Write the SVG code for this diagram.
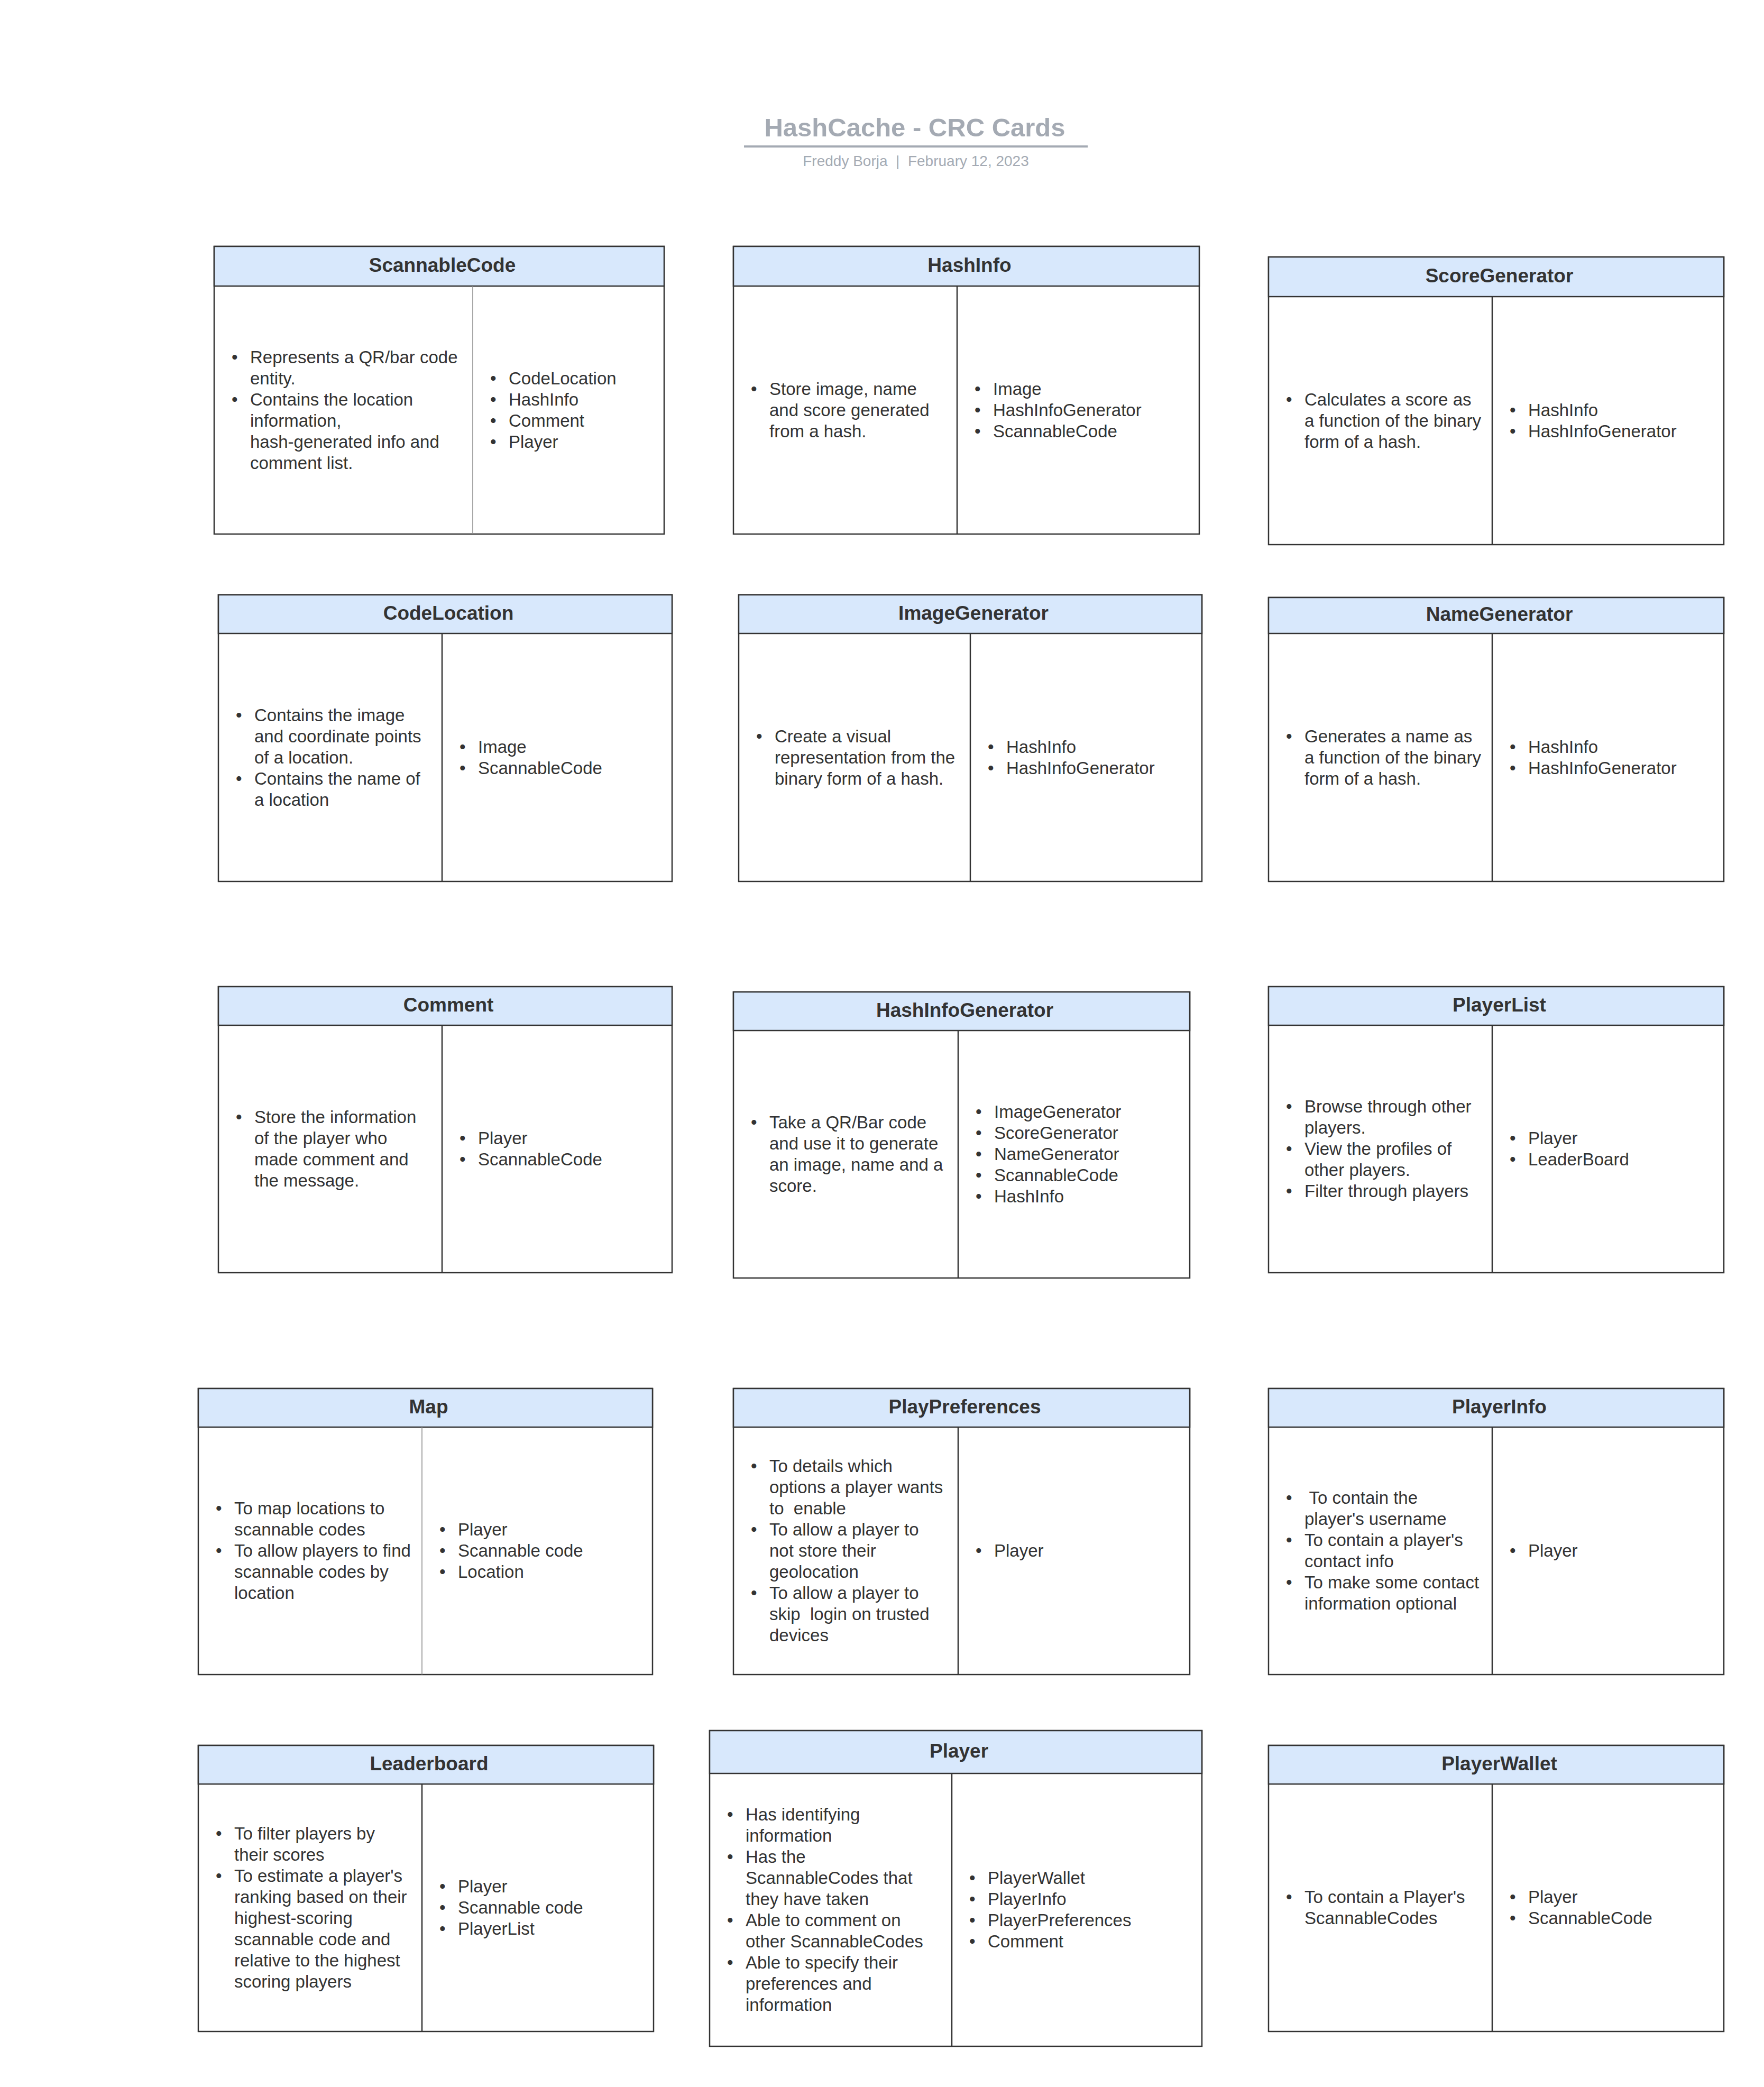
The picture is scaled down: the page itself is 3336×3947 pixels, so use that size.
<svg xmlns="http://www.w3.org/2000/svg" width="3336" height="3947" viewBox="0 0 3336 3947">
<style>
.bg{fill:#ffffff}
.box{fill:#ffffff;stroke:#333333;stroke-width:2.5}
.hdr{fill:#D8E8FC;stroke:#333333;stroke-width:2.5}
.dv{stroke:#333333;stroke-width:2.5}
.dvl{stroke:#8a8a8a;stroke-width:1.5}
.h{font-family:"Liberation Sans",Arial,sans-serif;font-size:37px;font-weight:bold;fill:#333333;text-anchor:middle;transform:translate(6px,-3px)}
.t{font-family:"Liberation Sans",Arial,sans-serif;font-size:33px;fill:#333333;white-space:pre}
.ttl{font-family:"Liberation Sans",Arial,sans-serif;font-size:49px;font-weight:bold;fill:#A4AAB3;text-anchor:middle}
.sub{font-family:"Liberation Sans",Arial,sans-serif;font-size:28px;fill:#A4AAB3;text-anchor:middle;white-space:pre}
</style>
<rect class="bg" x="0" y="0" width="3336" height="3947"/>

<g id="title">
<text class="ttl" x="1730" y="258">HashCache - CRC Cards</text>
<line x1="1407" y1="277" x2="2057" y2="277" stroke="#A4AAB3" stroke-width="4"/>
<text class="sub" x="1732" y="314">Freddy Borja  |  February 12, 2023</text>
</g>

<g id="connectors"></g>

<g id="ScannableCode">
<rect class="box" x="405" y="466" width="851" height="544"/>
<rect class="hdr" x="405" y="466" width="851" height="75"/>
<line class="dvl" x1="894" y1="541" x2="894" y2="1010"/>
<text class="h" x="830.5" y="516.5">ScannableCode</text>
<text class="t" x="438" y="686.5">•</text><text class="t" x="473" y="686.5">Represents a QR/bar code</text>
<text class="t" x="473" y="726.5">entity.</text>
<text class="t" x="438" y="766.5">•</text><text class="t" x="473" y="766.5">Contains the location</text>
<text class="t" x="473" y="806.5">information,</text>
<text class="t" x="473" y="846.5">hash-generated info and</text>
<text class="t" x="473" y="886.5">comment list.</text>
<text class="t" x="927" y="726.5">•</text><text class="t" x="962" y="726.5">CodeLocation</text>
<text class="t" x="927" y="766.5">•</text><text class="t" x="962" y="766.5">HashInfo</text>
<text class="t" x="927" y="806.5">•</text><text class="t" x="962" y="806.5">Comment</text>
<text class="t" x="927" y="846.5">•</text><text class="t" x="962" y="846.5">Player</text>
</g>

<g id="HashInfo">
<rect class="box" x="1387" y="466" width="881" height="544"/>
<rect class="hdr" x="1387" y="466" width="881" height="75"/>
<line class="dv" x1="1810" y1="541" x2="1810" y2="1010"/>
<text class="h" x="1827.5" y="516.5">HashInfo</text>
<text class="t" x="1420" y="746.5">•</text><text class="t" x="1455" y="746.5">Store image, name</text>
<text class="t" x="1455" y="786.5">and score generated</text>
<text class="t" x="1455" y="826.5">from a hash.</text>
<text class="t" x="1843" y="746.5">•</text><text class="t" x="1878" y="746.5">Image</text>
<text class="t" x="1843" y="786.5">•</text><text class="t" x="1878" y="786.5">HashInfoGenerator</text>
<text class="t" x="1843" y="826.5">•</text><text class="t" x="1878" y="826.5">ScannableCode</text>
</g>

<g id="ScoreGenerator">
<rect class="box" x="2399" y="486" width="861" height="544"/>
<rect class="hdr" x="2399" y="486" width="861" height="75"/>
<line class="dv" x1="2822" y1="561" x2="2822" y2="1030"/>
<text class="h" x="2829.5" y="536.5">ScoreGenerator</text>
<text class="t" x="2432" y="766.5">•</text><text class="t" x="2467" y="766.5">Calculates a score as</text>
<text class="t" x="2467" y="806.5">a function of the binary</text>
<text class="t" x="2467" y="846.5">form of a hash.</text>
<text class="t" x="2855" y="786.5">•</text><text class="t" x="2890" y="786.5">HashInfo</text>
<text class="t" x="2855" y="826.5">•</text><text class="t" x="2890" y="826.5">HashInfoGenerator</text>
</g>

<g id="CodeLocation">
<rect class="box" x="413" y="1125" width="858" height="542"/>
<rect class="hdr" x="413" y="1125" width="858" height="73"/>
<line class="dv" x1="836" y1="1198" x2="836" y2="1667"/>
<text class="h" x="842" y="1174.5">CodeLocation</text>
<text class="t" x="446" y="1363.5">•</text><text class="t" x="481" y="1363.5">Contains the image</text>
<text class="t" x="481" y="1403.5">and coordinate points</text>
<text class="t" x="481" y="1443.5">of a location.</text>
<text class="t" x="446" y="1483.5">•</text><text class="t" x="481" y="1483.5">Contains the name of</text>
<text class="t" x="481" y="1523.5">a location</text>
<text class="t" x="869" y="1423.5">•</text><text class="t" x="904" y="1423.5">Image</text>
<text class="t" x="869" y="1463.5">•</text><text class="t" x="904" y="1463.5">ScannableCode</text>
</g>

<g id="ImageGenerator">
<rect class="box" x="1397" y="1125" width="876" height="542"/>
<rect class="hdr" x="1397" y="1125" width="876" height="73"/>
<line class="dv" x1="1835" y1="1198" x2="1835" y2="1667"/>
<text class="h" x="1835" y="1174.5">ImageGenerator</text>
<text class="t" x="1430" y="1403.5">•</text><text class="t" x="1465" y="1403.5">Create a visual</text>
<text class="t" x="1465" y="1443.5">representation from the</text>
<text class="t" x="1465" y="1483.5">binary form of a hash.</text>
<text class="t" x="1868" y="1423.5">•</text><text class="t" x="1903" y="1423.5">HashInfo</text>
<text class="t" x="1868" y="1463.5">•</text><text class="t" x="1903" y="1463.5">HashInfoGenerator</text>
</g>

<g id="NameGenerator">
<rect class="box" x="2399" y="1130" width="861" height="537"/>
<rect class="hdr" x="2399" y="1130" width="861" height="68"/>
<line class="dv" x1="2822" y1="1198" x2="2822" y2="1667"/>
<text class="h" x="2829.5" y="1177">NameGenerator</text>
<text class="t" x="2432" y="1403.5">•</text><text class="t" x="2467" y="1403.5">Generates a name as</text>
<text class="t" x="2467" y="1443.5">a function of the binary</text>
<text class="t" x="2467" y="1483.5">form of a hash.</text>
<text class="t" x="2855" y="1423.5">•</text><text class="t" x="2890" y="1423.5">HashInfo</text>
<text class="t" x="2855" y="1463.5">•</text><text class="t" x="2890" y="1463.5">HashInfoGenerator</text>
</g>

<g id="Comment">
<rect class="box" x="413" y="1866" width="858" height="541"/>
<rect class="hdr" x="413" y="1866" width="858" height="73"/>
<line class="dv" x1="836" y1="1939" x2="836" y2="2407"/>
<text class="h" x="842" y="1915.5">Comment</text>
<text class="t" x="446" y="2124">•</text><text class="t" x="481" y="2124">Store the information</text>
<text class="t" x="481" y="2164">of the player who</text>
<text class="t" x="481" y="2204">made comment and</text>
<text class="t" x="481" y="2244">the message.</text>
<text class="t" x="869" y="2164">•</text><text class="t" x="904" y="2164">Player</text>
<text class="t" x="869" y="2204">•</text><text class="t" x="904" y="2204">ScannableCode</text>
</g>

<g id="HashInfoGenerator">
<rect class="box" x="1387" y="1876" width="863" height="541"/>
<rect class="hdr" x="1387" y="1876" width="863" height="73"/>
<line class="dv" x1="1812" y1="1949" x2="1812" y2="2417"/>
<text class="h" x="1818.5" y="1925.5">HashInfoGenerator</text>
<text class="t" x="1420" y="2134">•</text><text class="t" x="1455" y="2134">Take a QR/Bar code</text>
<text class="t" x="1455" y="2174">and use it to generate</text>
<text class="t" x="1455" y="2214">an image, name and a</text>
<text class="t" x="1455" y="2254">score.</text>
<text class="t" x="1845" y="2114">•</text><text class="t" x="1880" y="2114">ImageGenerator</text>
<text class="t" x="1845" y="2154">•</text><text class="t" x="1880" y="2154">ScoreGenerator</text>
<text class="t" x="1845" y="2194">•</text><text class="t" x="1880" y="2194">NameGenerator</text>
<text class="t" x="1845" y="2234">•</text><text class="t" x="1880" y="2234">ScannableCode</text>
<text class="t" x="1845" y="2274">•</text><text class="t" x="1880" y="2274">HashInfo</text>
</g>

<g id="PlayerList">
<rect class="box" x="2399" y="1866" width="861" height="541"/>
<rect class="hdr" x="2399" y="1866" width="861" height="73"/>
<line class="dv" x1="2822" y1="1939" x2="2822" y2="2407"/>
<text class="h" x="2829.5" y="1915.5">PlayerList</text>
<text class="t" x="2432" y="2104">•</text><text class="t" x="2467" y="2104">Browse through other</text>
<text class="t" x="2467" y="2144">players.</text>
<text class="t" x="2432" y="2184">•</text><text class="t" x="2467" y="2184">View the profiles of</text>
<text class="t" x="2467" y="2224">other players.</text>
<text class="t" x="2432" y="2264">•</text><text class="t" x="2467" y="2264">Filter through players</text>
<text class="t" x="2855" y="2164">•</text><text class="t" x="2890" y="2164">Player</text>
<text class="t" x="2855" y="2204">•</text><text class="t" x="2890" y="2204">LeaderBoard</text>
</g>

<g id="Map">
<rect class="box" x="375" y="2626" width="859" height="541"/>
<rect class="hdr" x="375" y="2626" width="859" height="73"/>
<line class="dvl" x1="798" y1="2699" x2="798" y2="3167"/>
<text class="h" x="804.5" y="2675.5">Map</text>
<text class="t" x="408" y="2864">•</text><text class="t" x="443" y="2864">To map locations to</text>
<text class="t" x="443" y="2904">scannable codes</text>
<text class="t" x="408" y="2944">•</text><text class="t" x="443" y="2944">To allow players to find</text>
<text class="t" x="443" y="2984">scannable codes by</text>
<text class="t" x="443" y="3024">location</text>
<text class="t" x="831" y="2904">•</text><text class="t" x="866" y="2904">Player</text>
<text class="t" x="831" y="2944">•</text><text class="t" x="866" y="2944">Scannable code</text>
<text class="t" x="831" y="2984">•</text><text class="t" x="866" y="2984">Location</text>
</g>

<g id="PlayPreferences">
<rect class="box" x="1387" y="2626" width="863" height="541"/>
<rect class="hdr" x="1387" y="2626" width="863" height="73"/>
<line class="dv" x1="1812" y1="2699" x2="1812" y2="3167"/>
<text class="h" x="1818.5" y="2675.5">PlayPreferences</text>
<text class="t" x="1420" y="2784">•</text><text class="t" x="1455" y="2784">To details which</text>
<text class="t" x="1455" y="2824">options a player wants</text>
<text class="t" x="1455" y="2864">to  enable</text>
<text class="t" x="1420" y="2904">•</text><text class="t" x="1455" y="2904">To allow a player to</text>
<text class="t" x="1455" y="2944">not store their</text>
<text class="t" x="1455" y="2984">geolocation</text>
<text class="t" x="1420" y="3024">•</text><text class="t" x="1455" y="3024">To allow a player to</text>
<text class="t" x="1455" y="3064">skip  login on trusted</text>
<text class="t" x="1455" y="3104">devices</text>
<text class="t" x="1845" y="2944">•</text><text class="t" x="1880" y="2944">Player</text>
</g>

<g id="PlayerInfo">
<rect class="box" x="2399" y="2626" width="861" height="541"/>
<rect class="hdr" x="2399" y="2626" width="861" height="73"/>
<line class="dv" x1="2822" y1="2699" x2="2822" y2="3167"/>
<text class="h" x="2829.5" y="2675.5">PlayerInfo</text>
<text class="t" x="2432" y="2844">•</text><text class="t" x="2467" y="2844"> To contain the</text>
<text class="t" x="2467" y="2884">player's username</text>
<text class="t" x="2432" y="2924">•</text><text class="t" x="2467" y="2924">To contain a player's</text>
<text class="t" x="2467" y="2964">contact info</text>
<text class="t" x="2432" y="3004">•</text><text class="t" x="2467" y="3004">To make some contact</text>
<text class="t" x="2467" y="3044">information optional</text>
<text class="t" x="2855" y="2944">•</text><text class="t" x="2890" y="2944">Player</text>
</g>

<g id="Leaderboard">
<rect class="box" x="375" y="3301" width="861" height="541"/>
<rect class="hdr" x="375" y="3301" width="861" height="73"/>
<line class="dv" x1="798" y1="3374" x2="798" y2="3842"/>
<text class="h" x="805.5" y="3350.5">Leaderboard</text>
<text class="t" x="408" y="3479">•</text><text class="t" x="443" y="3479">To filter players by</text>
<text class="t" x="443" y="3519">their scores</text>
<text class="t" x="408" y="3559">•</text><text class="t" x="443" y="3559">To estimate a player's</text>
<text class="t" x="443" y="3599">ranking based on their</text>
<text class="t" x="443" y="3639">highest-scoring</text>
<text class="t" x="443" y="3679">scannable code and</text>
<text class="t" x="443" y="3719">relative to the highest</text>
<text class="t" x="443" y="3759">scoring players</text>
<text class="t" x="831" y="3579">•</text><text class="t" x="866" y="3579">Player</text>
<text class="t" x="831" y="3619">•</text><text class="t" x="866" y="3619">Scannable code</text>
<text class="t" x="831" y="3659">•</text><text class="t" x="866" y="3659">PlayerList</text>
</g>

<g id="Player">
<rect class="box" x="1342" y="3273" width="931" height="597"/>
<rect class="hdr" x="1342" y="3273" width="931" height="81"/>
<line class="dv" x1="1800" y1="3354" x2="1800" y2="3870"/>
<text class="h" x="1807.5" y="3326.5">Player</text>
<text class="t" x="1375" y="3443">•</text><text class="t" x="1410" y="3443">Has identifying</text>
<text class="t" x="1410" y="3483">information</text>
<text class="t" x="1375" y="3523">•</text><text class="t" x="1410" y="3523">Has the</text>
<text class="t" x="1410" y="3563">ScannableCodes that</text>
<text class="t" x="1410" y="3603">they have taken</text>
<text class="t" x="1375" y="3643">•</text><text class="t" x="1410" y="3643">Able to comment on</text>
<text class="t" x="1410" y="3683">other ScannableCodes</text>
<text class="t" x="1375" y="3723">•</text><text class="t" x="1410" y="3723">Able to specify their</text>
<text class="t" x="1410" y="3763">preferences and</text>
<text class="t" x="1410" y="3803">information</text>
<text class="t" x="1833" y="3563">•</text><text class="t" x="1868" y="3563">PlayerWallet</text>
<text class="t" x="1833" y="3603">•</text><text class="t" x="1868" y="3603">PlayerInfo</text>
<text class="t" x="1833" y="3643">•</text><text class="t" x="1868" y="3643">PlayerPreferences</text>
<text class="t" x="1833" y="3683">•</text><text class="t" x="1868" y="3683">Comment</text>
</g>

<g id="PlayerWallet">
<rect class="box" x="2399" y="3301" width="861" height="541"/>
<rect class="hdr" x="2399" y="3301" width="861" height="73"/>
<line class="dv" x1="2822" y1="3374" x2="2822" y2="3842"/>
<text class="h" x="2829.5" y="3350.5">PlayerWallet</text>
<text class="t" x="2432" y="3599">•</text><text class="t" x="2467" y="3599">To contain a Player's</text>
<text class="t" x="2467" y="3639">ScannableCodes</text>
<text class="t" x="2855" y="3599">•</text><text class="t" x="2890" y="3599">Player</text>
<text class="t" x="2855" y="3639">•</text><text class="t" x="2890" y="3639">ScannableCode</text>
</g>
</svg>
